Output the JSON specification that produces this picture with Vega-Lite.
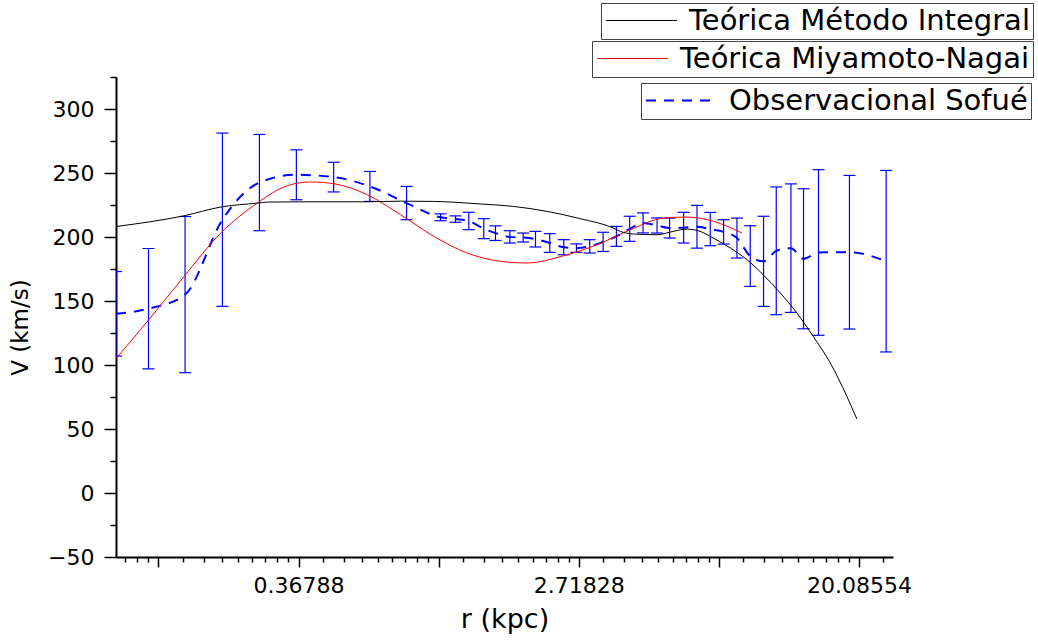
{
  "$schema": "https://vega.github.io/schema/vega-lite/v6.json",
  "width": 777,
  "height": 480,
  "autosize": {"type": "none"},
  "padding": {"left": 116, "top": 77, "right": 145, "bottom": 84},
  "background": "white",
  "config": {
    "view": {"stroke": null},
    "font": "DejaVu Sans",
    "axis": {
      "domainColor": "#000",
      "domainWidth": 2,
      "tickColor": "#000",
      "tickWidth": 1.5,
      "labelColor": "#000",
      "labelFont": "DejaVu Sans",
      "labelFontSize": 22,
      "titleColor": "#000",
      "titleFont": "DejaVu Sans",
      "titleFontWeight": "normal",
      "grid": false,
      "labelOverlap": false,
      "labelBound": false,
      "zindex": 1
    },
    "legend": {
      "orient": "none",
      "symbolType": "M-1,0H4.68",
      "symbolSize": 625,
      "symbolStrokeWidth": 1,
      "labelFont": "DejaVu Sans",
      "labelFontSize": 29,
      "labelColor": "#000",
      "labelOffset": 56,
      "labelLimit": 600,
      "padding": 3,
      "strokeColor": "#444",
      "fillColor": "white"
    }
  },
  "encoding": {
    "x": {
      "field": "r",
      "type": "quantitative",
      "scale": {"type": "log", "base": 2.718281828459045, "domain": [0.1, 25.6], "nice": false},
      "axis": {
        "title": "r (kpc)",
        "titleFontSize": 27,
        "titlePadding": 10,
        "values": [0.10682, 0.11632, 0.12583, 0.135335, 0.161173, 0.187011, 0.212849, 0.238687, 0.264525, 0.290363, 0.316201, 0.342039, 0.367879, 0.438115, 0.508351, 0.578587, 0.648823, 0.719059, 0.789295, 0.859531, 0.929767, 1, 1.19092, 1.38184, 1.57276, 1.763681, 1.954601, 2.145521, 2.336441, 2.527361, 2.718282, 3.237257, 3.756232, 4.275207, 4.794182, 5.313156, 5.832131, 6.351106, 6.870081, 7.389056, 8.799776, 10.210496, 11.621216, 13.031936, 14.442656, 15.853376, 17.264096, 18.674816, 20.085537, 23.920272],
        "labelExpr": "(abs(log(datum.value)+1)<0.001 || abs(log(datum.value)-1)<0.001 || abs(log(datum.value)-3)<0.001) ? format(datum.value, '.5f') : ''",
        "tickSize": {"condition": {"test": "abs(log(datum.value) - round(log(datum.value))) < 0.001", "value": 10}, "value": 5},
        "labelPadding": 8
      }
    },
    "y": {
      "field": "v",
      "type": "quantitative",
      "scale": {"domain": [-50, 325], "nice": false, "zero": false},
      "axis": {
        "title": "V (km/s)",
        "titleFontSize": 23,
        "titlePadding": 15,
        "titleY": 250,
        "values": [-50, -25, 0, 25, 50, 75, 100, 125, 150, 175, 200, 225, 250, 275, 300, 325],
        "labelExpr": "datum.value % 50 === 0 ? datum.label : ''",
        "tickSize": {"condition": {"test": "datum.value % 50 === 0", "value": 12}, "value": 6},
        "labelPadding": 10
      }
    }
  },
  "layer": [
    {
      "data": {"values": [
        {"r": 0.1, "v": 140, "err": 33},
        {"r": 0.1261, "v": 144, "err": 47},
        {"r": 0.1637, "v": 155, "err": 61},
        {"r": 0.2137, "v": 213.5, "err": 67.7},
        {"r": 0.2783, "v": 242.5, "err": 37.6},
        {"r": 0.3623, "v": 248.6, "err": 19.5},
        {"r": 0.4727, "v": 246.8, "err": 11.6},
        {"r": 0.6123, "v": 239.5, "err": 11.7},
        {"r": 0.7954, "v": 226.5, "err": 13},
        {"r": 1.0137, "v": 215.4, "err": 2.7},
        {"r": 1.128, "v": 214, "err": 2.5},
        {"r": 1.24, "v": 212.5, "err": 6.8},
        {"r": 1.38, "v": 206.5, "err": 7.8},
        {"r": 1.5, "v": 203, "err": 5.7},
        {"r": 1.662, "v": 200.1, "err": 4.8},
        {"r": 1.828, "v": 199.6, "err": 3.5},
        {"r": 1.996, "v": 198.3, "err": 6.1},
        {"r": 2.21, "v": 195.3, "err": 7.3},
        {"r": 2.442, "v": 192, "err": 5.9},
        {"r": 2.673, "v": 191.3, "err": 3.3},
        {"r": 2.939, "v": 192.7, "err": 5.2},
        {"r": 3.234, "v": 196.2, "err": 7.5},
        {"r": 3.556, "v": 200.5, "err": 7.8},
        {"r": 3.909, "v": 206.4, "err": 9.8},
        {"r": 4.301, "v": 211, "err": 7.8},
        {"r": 4.752, "v": 209, "err": 5.9},
        {"r": 5.199, "v": 207, "err": 7.8},
        {"r": 5.745, "v": 207.3, "err": 12},
        {"r": 6.32, "v": 208, "err": 16.7},
        {"r": 6.949, "v": 206.2, "err": 13},
        {"r": 7.641, "v": 204, "err": 9.5},
        {"r": 8.406, "v": 199.2, "err": 15.6},
        {"r": 9.243, "v": 185.1, "err": 23.7},
        {"r": 10.163, "v": 181, "err": 35.2},
        {"r": 11.127, "v": 189.2, "err": 49.9},
        {"r": 12.356, "v": 191.3, "err": 50.2},
        {"r": 13.517, "v": 183, "err": 54.7},
        {"r": 15.042, "v": 187.9, "err": 64.7},
        {"r": 18.762, "v": 188.1, "err": 60},
        {"r": 24.38, "v": 181.1, "err": 70.9}
      ]},
      "layer": [
        {
          "mark": {"type": "errorbar", "ticks": true, "size": 12, "thickness": 1.2, "color": "#0000ff", "opacity": 1, "clip": true},
          "encoding": {"yError": {"field": "err"}}
        },
        {
          "mark": {"type": "line", "strokeWidth": 2, "strokeDash": [10, 8], "interpolate": "monotone", "clip": true},
          "encoding": {
            "color": {
              "datum": "Observacional Sofué",
              "type": "nominal",
              "scale": {"range": ["#0000ff"]},
              "legend": {"title": null, "legendX": 525, "legendY": 6, "symbolDash": [10, 8], "symbolStrokeWidth": 2}
            }
          }
        }
      ]
    },
    {
      "data": {"values": [
        {"r": 0.1, "v": 105},
        {"r": 0.1252, "v": 134.1},
        {"r": 0.1625, "v": 169.2},
        {"r": 0.2112, "v": 203.1},
        {"r": 0.2745, "v": 226.6},
        {"r": 0.3398, "v": 240.1},
        {"r": 0.4011, "v": 243},
        {"r": 0.4737, "v": 241.6},
        {"r": 0.601, "v": 233},
        {"r": 0.762, "v": 217.4},
        {"r": 0.966, "v": 200.5},
        {"r": 1.226, "v": 187.5},
        {"r": 1.555, "v": 181},
        {"r": 1.881, "v": 179.7},
        {"r": 2.442, "v": 185.4},
        {"r": 3.099, "v": 194},
        {"r": 3.928, "v": 205.7},
        {"r": 4.982, "v": 214.8},
        {"r": 5.888, "v": 215.6},
        {"r": 7.114, "v": 212.2},
        {"r": 8.71, "v": 203.1}
      ]},
      "mark": {"type": "line", "strokeWidth": 1, "interpolate": "monotone", "clip": true},
      "encoding": {
        "color": {
          "datum": "Teórica Miyamoto-Nagai",
          "type": "nominal",
          "scale": {"range": ["#ff0000"]},
          "legend": {"title": null, "legendX": 476, "legendY": -36}
        }
      }
    },
    {
      "data": {"values": [
        {"r": 0.1, "v": 208.2},
        {"r": 0.1625, "v": 216.6},
        {"r": 0.2112, "v": 223.4},
        {"r": 0.2745, "v": 226.5},
        {"r": 0.2947, "v": 227.3},
        {"r": 0.3736, "v": 227.5},
        {"r": 0.601, "v": 227.5},
        {"r": 0.762, "v": 228},
        {"r": 0.9646, "v": 227.8},
        {"r": 1.349, "v": 225.8},
        {"r": 1.706, "v": 223.9},
        {"r": 2.169, "v": 220},
        {"r": 2.75, "v": 214.3},
        {"r": 3.48, "v": 207},
        {"r": 3.658, "v": 204.4},
        {"r": 4.014, "v": 202.3},
        {"r": 4.754, "v": 201.8},
        {"r": 5.339, "v": 204.4},
        {"r": 5.886, "v": 206.2},
        {"r": 6.321, "v": 205.2},
        {"r": 7.1, "v": 199.2},
        {"r": 8.014, "v": 191.4},
        {"r": 9.025, "v": 182.3},
        {"r": 10.14, "v": 170.5},
        {"r": 11.45, "v": 156.3},
        {"r": 12.9, "v": 140.6},
        {"r": 14.49, "v": 122.3},
        {"r": 16.36, "v": 101.6},
        {"r": 18.42, "v": 75.5},
        {"r": 19.78, "v": 57.8}
      ]},
      "mark": {"type": "line", "strokeWidth": 1, "interpolate": "monotone", "clip": true},
      "encoding": {
        "color": {
          "datum": "Teórica Método Integral",
          "type": "nominal",
          "scale": {"range": ["#000000"]},
          "legend": {"title": null, "legendX": 485, "legendY": -74}
        }
      }
    }
  ],
  "resolve": {"scale": {"color": "independent"}}
}
